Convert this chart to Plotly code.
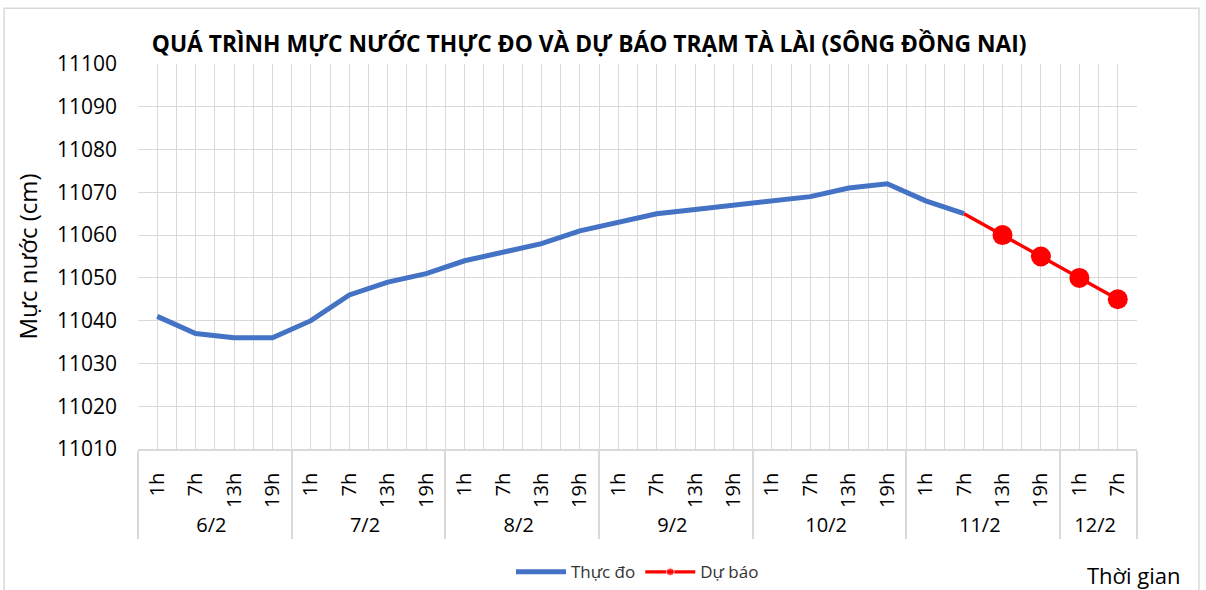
import plotly.graph_objects as go

# ---- data ----
days = ["6/2", "7/2", "8/2", "9/2", "10/2", "11/2", "12/2"]
hours_per_day = [["1h", "7h", "13h", "19h"]] * 6 + [["1h", "7h"]]

thuc_do = [11041, 11037, 11036, 11036, 11040, 11046, 11049, 11051, 11054, 11056,
           11058, 11061, 11063, 11065, 11066, 11067, 11068, 11069, 11071, 11072,
           11068, 11065]
du_bao = [11065, 11060, 11055, 11050, 11045]
du_bao_start = 21  # index of category where forecast starts (11/2 7h)

y_ticks = [11010, 11020, 11030, 11040, 11050, 11060, 11070, 11080, 11090, 11100]

title = "QUÁ TRÌNH MỰC NƯỚC THỰC ĐO VÀ DỰ BÁO TRẠM TÀ LÀI (SÔNG ĐỒNG NAI)"

# ---- build categories ----
cat_day, cat_hour = [], []
for d, hs in zip(days, hours_per_day):
    for h in hs:
        cat_day.append(d)
        cat_hour.append(h)
n = len(cat_day)

y_td = thuc_do + [None] * (n - len(thuc_do))
fx_day = cat_day[du_bao_start:du_bao_start + len(du_bao)]
fx_hour = cat_hour[du_bao_start:du_bao_start + len(du_bao)]

FONT = "Open Sans"
fig = go.Figure()

# invisible trace on helper axis for the half-step grid
fig.add_trace(go.Scatter(x=[-0.5, n - 0.5], y=[y_ticks[0], y_ticks[0]], xaxis="x2", yaxis="y",
                         mode="markers", marker=dict(opacity=0), showlegend=False, hoverinfo="skip"))

fig.add_trace(go.Scatter(x=[cat_day, cat_hour], y=y_td, mode="lines", name="Thực đo",
                         line=dict(color="#4472C4", width=5)))
# forecast line (legend entry with small marker; small markers hidden beneath big ones)
fig.add_trace(go.Scatter(x=[fx_day, fx_hour], y=du_bao, mode="lines+markers", name="Dự báo",
                         legendgroup="db", line=dict(color="#FF0000", width=3.4),
                         marker=dict(color="#FF0000", size=[0] + [10] * (len(du_bao) - 1))))
fig.add_trace(go.Scatter(x=[fx_day[1:], fx_hour[1:]], y=du_bao[1:], mode="markers",
                         legendgroup="db", showlegend=False,
                         marker=dict(color="#FF0000", size=20)))

fig.update_layout(
    width=1206, height=590,
    paper_bgcolor="white", plot_bgcolor="white",
    margin=dict(l=138, r=69, t=64, b=141),
    font=dict(family=FONT, color="#000000"),
    title=dict(text="<b>" + title + "</b>", x=0.4885, xanchor="center", y=0.925, yanchor="middle",
               font=dict(size=22.8, family=FONT, color="#000000")),
    xaxis=dict(type="multicategory", showgrid=False, tickangle=-90, automargin=False,
               tickfont=dict(size=20, color="#000000"), ticklabelstandoff=14,
               showline=True, linecolor="#d9d9d9", linewidth=1.5,
               showdividers=True, dividercolor="#d9d9d9", dividerwidth=1.5,
               ticks="", range=[-0.5, n - 0.5]),
    xaxis2=dict(overlaying="x", range=[-0.5, n - 0.5], tick0=-0.5, dtick=0.5, automargin=False,
                showgrid=True, gridcolor="#d9d9d9", gridwidth=1,
                showticklabels=False, zeroline=False, ticks=""),
    yaxis=dict(range=[y_ticks[0], y_ticks[-1]], tickvals=y_ticks, tickformat="d",
               showgrid=True, automargin=False,
               gridcolor="#d9d9d9", gridwidth=1.3, zeroline=False, showline=False,
               tickfont=dict(size=21, color="#000000"), ticks="", ticklabelstandoff=20,
               title=dict(text="Mực nước (cm)", font=dict(size=24, color="#000000"),
                          standoff=12)),
    legend=dict(orientation="h", x=0.5, xanchor="center", yref="container", y=0.03,
                yanchor="middle",
                font=dict(size=17, color="#333333"), itemwidth=50, bgcolor="rgba(0,0,0,0)"),
    annotations=[dict(text="Thời gian", xref="paper", yref="paper", x=0.997, y=-0.327,
                      xanchor="center", yanchor="middle", showarrow=False,
                      font=dict(size=22, color="#000000"))],
    shapes=[dict(type="rect", xref="paper", yref="paper", x0=-0.134, x1=1.062, y0=-0.4, y1=1.145,
                 line=dict(color="#d9d9d9", width=1.5), layer="below")],
)

fig.write_html("out.html", config={"displayModeBar": False},
               post_script="document.body.style.margin='0';")
